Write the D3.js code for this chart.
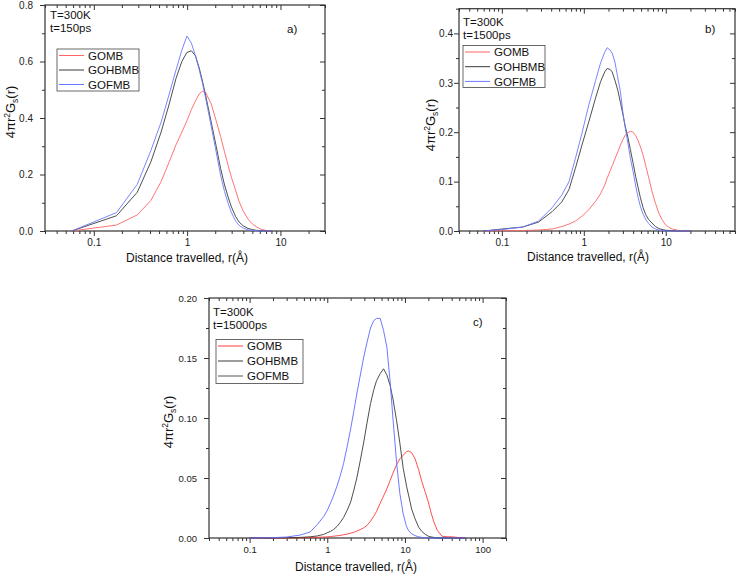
<!DOCTYPE html>
<html><head><meta charset="utf-8">
<script src="https://cdn.jsdelivr.net/npm/d3@7"></script>
<style>
body{margin:0;background:#fff;}
svg{font-family:"Liberation Sans",Arial,Helvetica,sans-serif;}
</style></head><body>
<svg id="chart" width="738" height="574"></svg>
<script>
// ---------- data ----------
const seriesNames = ["GOMB", "GOHBMB", "GOFMB"];

// panel a) t = 150 ps
const rA = [0.058, 0.175, 0.292, 0.409, 0.526, 0.643, 0.76, 0.877, 0.994, 1.111, 1.228, 1.345, 1.462, 1.579, 1.813, 2.047, 2.281, 2.515, 2.749, 2.983, 3.3, 3.6, 4.0, 4.5, 5.0, 5.6, 6.2, 7.0, 8.0];
const gombA   = [0, 0.021, 0.057, 0.108, 0.175, 0.245, 0.305, 0.35, 0.39, 0.43, 0.46, 0.485, 0.495, 0.49, 0.45, 0.39, 0.335, 0.28, 0.232, 0.19, 0.145, 0.105, 0.07, 0.042, 0.025, 0.013, 0.006, 0.002, 0];
const gohbmbA = [0, 0.054, 0.137, 0.245, 0.35, 0.45, 0.54, 0.60, 0.632, 0.638, 0.62, 0.578, 0.53, 0.48, 0.385, 0.30, 0.222, 0.163, 0.12, 0.085, 0.052, 0.032, 0.018, 0.009, 0.005, 0.002, 0.001, 0, 0];
const gofmbA  = [0, 0.065, 0.165, 0.285, 0.385, 0.485, 0.57, 0.64, 0.69, 0.665, 0.62, 0.572, 0.522, 0.47, 0.37, 0.28, 0.198, 0.14, 0.098, 0.065, 0.036, 0.02, 0.01, 0.004, 0.002, 0.001, 0, 0, 0];

// panel b) t = 1500 ps
const rB = [0.06, 0.1, 0.18, 0.28, 0.41, 0.54, 0.66, 0.79, 0.95, 1.15, 1.39, 1.6, 1.8, 1.93, 2.1, 2.22, 2.4, 2.6, 2.8, 3.0, 3.2, 3.45, 3.7, 4.0, 4.3, 4.6, 4.9, 5.3, 5.7, 6.2, 6.8, 7.5, 8.2, 9.0, 10.0, 11.0, 12.0, 14.0, 16.0, 20.0];
const gombB   = [0, 0.0005, 0.001, 0.002, 0.004, 0.009, 0.014, 0.02, 0.03, 0.043, 0.06, 0.075, 0.093, 0.107, 0.122, 0.132, 0.146, 0.16, 0.174, 0.185, 0.194, 0.199, 0.202, 0.2, 0.193, 0.183, 0.171, 0.153, 0.132, 0.108, 0.08, 0.056, 0.037, 0.023, 0.012, 0.007, 0.004, 0.0015, 0.0005, 0];
const gohbmbB = [0, 0.004, 0.008, 0.018, 0.039, 0.059, 0.084, 0.127, 0.174, 0.221, 0.269, 0.302, 0.322, 0.329, 0.327, 0.322, 0.305, 0.285, 0.26, 0.236, 0.212, 0.19, 0.165, 0.137, 0.11, 0.088, 0.068, 0.047, 0.033, 0.023, 0.016, 0.009, 0.005, 0.003, 0.0015, 0.001, 0.0005, 0, 0, 0];
const gofmbB  = [0, 0.003, 0.008, 0.02, 0.047, 0.073, 0.10, 0.147, 0.198, 0.255, 0.304, 0.34, 0.362, 0.371, 0.366, 0.36, 0.342, 0.31, 0.282, 0.24, 0.21, 0.178, 0.148, 0.12, 0.091, 0.068, 0.05, 0.034, 0.023, 0.015, 0.008, 0.004, 0.002, 0.001, 0, 0, 0, 0, 0, 0];

// panel c) t = 15000 ps
const rC = [0.1, 0.2, 0.3, 0.45, 0.6, 0.74, 0.9, 1.0, 1.1, 1.2, 1.33, 1.47, 1.62, 1.8, 2.0, 2.2, 2.4, 2.65, 2.95, 3.25, 3.6, 3.95, 4.3, 4.8, 5.3, 5.85, 6.45, 7.0, 7.8, 8.6, 9.5, 10.5, 11.2, 12.2, 13.5, 15, 16.5, 18.3, 20, 21.5, 23.5, 26, 30, 35, 40, 50, 60];
const gombC   = [0, 0, 0, 0.0002, 0.0004, 0.0006, 0.0008, 0.001, 0.0012, 0.0015, 0.0018, 0.0022, 0.0027, 0.0033, 0.004, 0.0048, 0.0057, 0.007, 0.0085, 0.0105, 0.014, 0.018, 0.022, 0.029, 0.035, 0.041, 0.048, 0.054, 0.061, 0.066, 0.069, 0.072, 0.0725, 0.071, 0.066, 0.057, 0.047, 0.038, 0.03, 0.022, 0.0136, 0.0065, 0.0015, 0.001, 0.001, 0.0003, 0];
const gohbmbC = [0, 0, 0.0002, 0.0005, 0.001, 0.0017, 0.003, 0.0044, 0.0055, 0.007, 0.0095, 0.013, 0.017, 0.023, 0.03, 0.04, 0.05, 0.064, 0.08, 0.096, 0.112, 0.123, 0.131, 0.137, 0.141, 0.136, 0.127, 0.116, 0.098, 0.079, 0.058, 0.043, 0.035, 0.024, 0.016, 0.009, 0.0055, 0.003, 0.0015, 0.001, 0.0005, 0, 0, 0, 0, 0, 0];
const gofmbC  = [0, 0.0003, 0.0008, 0.0025, 0.005, 0.011, 0.018, 0.023, 0.029, 0.035, 0.043, 0.052, 0.062, 0.076, 0.091, 0.106, 0.12, 0.135, 0.151, 0.163, 0.175, 0.181, 0.183, 0.183, 0.173, 0.159, 0.13, 0.1, 0.063, 0.037, 0.02, 0.0094, 0.006, 0.0035, 0.002, 0.001, 0.0005, 0, 0, 0, 0, 0, 0, 0, 0, 0, 0];

// tick values / labels
const xTickValues = [0.1, 1, 10, 100];
const xTickLabels = ["0.1", "1", "10", "100"];
const yTicksA = [0, 0.2, 0.4, 0.6, 0.8];
const yTickLabelsA = ["0.0", "0.2", "0.4", "0.6", "0.8"];
const yMinorA = [0.1, 0.3, 0.5, 0.7];
const yTicksB = [0, 0.1, 0.2, 0.3, 0.4];
const yTickLabelsB = ["0.0", "0.1", "0.2", "0.3", "0.4"];
const yMinorB = [0.05, 0.15, 0.25, 0.35, 0.45];
const yTicksC = [0, 0.05, 0.10, 0.15, 0.20];
const yTickLabelsC = ["0.00", "0.05", "0.10", "0.15", "0.20"];
const yMinorC = [0.025, 0.075, 0.125, 0.175];

const panelLabels = ["a)", "b)", "c)"];
const tempLabel = "T=300K";
const timeLabels = ["t=150ps", "t=1500ps", "t=15000ps"];
const xTitle = "Distance travelled, r(Å)";

// ---------- layout ----------
const svg = d3.select("#chart");
const panels = [
  { r: rA, vals: [gombA, gohbmbA, gofmbA], xDom: [0.03, 30], yDom: [0, 0.8],
    yT: yTicksA, yL: yTickLabelsA, yM: yMinorA, lab: panelLabels[0], time: timeLabels[0],
    L: 45, R: 325, T: 5, B: 231, yPad: 7, fs: 10,
    colors: ["#ff6464", "#3a3a3a", "#6a78ff"], legCol: ["#ff6464", "#3a3a3a", "#6a78ff"],
    leg: { x: 57, y: 49, w: 82, h: 42, row: 14.5 }, ann: { x: 50, y: 19 }, labPos: { x: 287, y: 33 },
    yTitle: { x: 15, y: 112 }, xTitleX: 187, xTitleY: 262 },
  { r: rB, vals: [gombB, gohbmbB, gofmbB], xDom: [0.03, 70], yDom: [0, 0.45],
    yT: yTicksB, yL: yTickLabelsB, yM: yMinorB, lab: panelLabels[1], time: timeLabels[1],
    L: 459, R: 735, T: 8.7, B: 231, yPad: 1, fs: 10,
    colors: ["#ff6464", "#3a3a3a", "#6a78ff"], legCol: ["#ff6464", "#3a3a3a", "#6a78ff"],
    leg: { x: 463, y: 45.5, w: 82, h: 42, row: 14.7 }, ann: { x: 463, y: 26 }, labPos: { x: 705, y: 32.5 },
    yTitle: { x: 435, y: 125 }, xTitleX: 588, xTitleY: 261 },
  { r: rC, vals: [gombC, gohbmbC, gofmbC], xDom: [0.03, 200], yDom: [0, 0.2],
    yT: yTicksC, yL: yTickLabelsC, yM: yMinorC, lab: panelLabels[2], time: timeLabels[2],
    L: 209, R: 506, T: 298, B: 538, yPad: 7, fs: 9.5,
    colors: ["#ff3a3a", "#3a3a3a", "#5a6aff"], legCol: ["#ff3a3a", "#3a3a3a", "#555555"],
    leg: { x: 216, y: 339.5, w: 87, h: 44, row: 15 }, ann: { x: 213, y: 316 }, labPos: { x: 473, y: 326 },
    yTitle: { x: 173, y: 422 }, xTitleX: 356, xTitleY: 571 }
];

const axisColor = "#333";

panels.forEach(p => {
  const x = d3.scaleLog().domain(p.xDom).range([p.L, p.R]);
  const y = d3.scaleLinear().domain(p.yDom).range([p.B, p.T]);
  const g = svg.append("g");

  const majX = xTickValues.filter(v => v >= p.xDom[0] && v <= p.xDom[1]);
  const minX = x.ticks().filter(v => !majX.some(m => Math.abs(m - v) < 1e-9));
  const xFmt = v => xTickLabels[xTickValues.indexOf(v)];
  const yFmt = v => p.yL[p.yT.indexOf(v)];

  const style = sel => {
    sel.select(".domain").remove();
    sel.selectAll("line").attr("stroke", axisColor);
    sel.selectAll("text").attr("fill", "#222").attr("font-size", p.fs).attr("font-family", "Liberation Sans, Arial, sans-serif");
  };

  // bottom
  g.append("g").attr("transform", `translate(0,${p.B})`)
    .call(d3.axisBottom(x).tickValues(majX).tickFormat(xFmt).tickSize(5).tickPadding(3)).call(style);
  g.append("g").attr("transform", `translate(0,${p.B})`)
    .call(d3.axisBottom(x).tickValues(minX).tickFormat("").tickSize(3)).call(style);
  // top (inward)
  g.append("g").attr("transform", `translate(0,${p.T})`)
    .call(d3.axisTop(x).tickValues(majX).tickFormat("").tickSize(-5)).call(style);
  g.append("g").attr("transform", `translate(0,${p.T})`)
    .call(d3.axisTop(x).tickValues(minX).tickFormat("").tickSize(-3)).call(style);
  // left
  g.append("g").attr("transform", `translate(${p.L},0)`)
    .call(d3.axisLeft(y).tickValues(p.yT).tickFormat(yFmt).tickSize(5).tickPadding(p.yPad)).call(style);
  g.append("g").attr("transform", `translate(${p.L},0)`)
    .call(d3.axisLeft(y).tickValues(p.yM.filter(v => v <= p.yDom[1])).tickFormat("").tickSize(3)).call(style);
  // right (inward)
  g.append("g").attr("transform", `translate(${p.R},0)`)
    .call(d3.axisRight(y).tickValues(p.yT).tickFormat("").tickSize(-5)).call(style);
  g.append("g").attr("transform", `translate(${p.R},0)`)
    .call(d3.axisRight(y).tickValues(p.yM.filter(v => v <= p.yDom[1])).tickFormat("").tickSize(-3)).call(style);

  // frame
  g.append("rect").attr("x", p.L).attr("y", p.T).attr("width", p.R - p.L).attr("height", p.B - p.T)
    .attr("fill", "none").attr("stroke", axisColor).attr("stroke-width", 1.2);

  // curves
  const line = d3.line().x(d => x(d[0])).y(d => y(d[1]));
  p.vals.forEach((vals, i) => {
    const pts = p.r.map((r, k) => [r, vals[k]]);
    g.append("path").datum(pts).attr("d", line)
      .attr("fill", "none").attr("stroke", p.colors[i]).attr("stroke-width", 0.9)
      .attr("stroke-linejoin", "round");
  });

  // legend
  const lg = g.append("g");
  lg.append("rect").attr("x", p.leg.x).attr("y", p.leg.y).attr("width", p.leg.w).attr("height", p.leg.h)
    .attr("fill", "#fff").attr("stroke", "#444").attr("stroke-width", 0.8);
  seriesNames.forEach((n, i) => {
    const cy = p.leg.y + 6.5 + i * p.leg.row;
    lg.append("line").attr("x1", p.leg.x + 2).attr("x2", p.leg.x + 27).attr("y1", cy).attr("y2", cy)
      .attr("stroke", p.legCol[i]).attr("stroke-width", 1);
    lg.append("text").attr("x", p.leg.x + 31).attr("y", cy + 4.2).attr("font-size", 11.5).attr("fill", "#111").text(n);
  });

  // annotations
  g.append("text").attr("x", p.ann.x).attr("y", p.ann.y).attr("font-size", 11.5).attr("fill", "#111").text(tempLabel);
  g.append("text").attr("x", p.ann.x).attr("y", p.ann.y + 13).attr("font-size", 11.5).attr("fill", "#111").text(p.time);
  g.append("text").attr("x", p.labPos.x).attr("y", p.labPos.y).attr("font-size", 11.5).attr("fill", "#111").text(p.lab);

  // axis titles
  g.append("text").attr("x", p.xTitleX).attr("y", p.xTitleY).attr("text-anchor", "middle")
    .attr("font-size", 12).attr("fill", "#111").text(xTitle);
  const yt = g.append("text").attr("transform", `translate(${p.yTitle.x},${p.yTitle.y}) rotate(-90)`)
    .attr("text-anchor", "middle").attr("font-size", 13).attr("fill", "#111");
  yt.append("tspan").text("4πr");
  yt.append("tspan").attr("font-size", 8.5).attr("dy", -5).text("2");
  yt.append("tspan").attr("dy", 5).text("G");
  yt.append("tspan").attr("font-size", 8.5).attr("dy", 3).text("s");
  yt.append("tspan").attr("dy", -3).text("(r)");
});
</script>
</body></html>
